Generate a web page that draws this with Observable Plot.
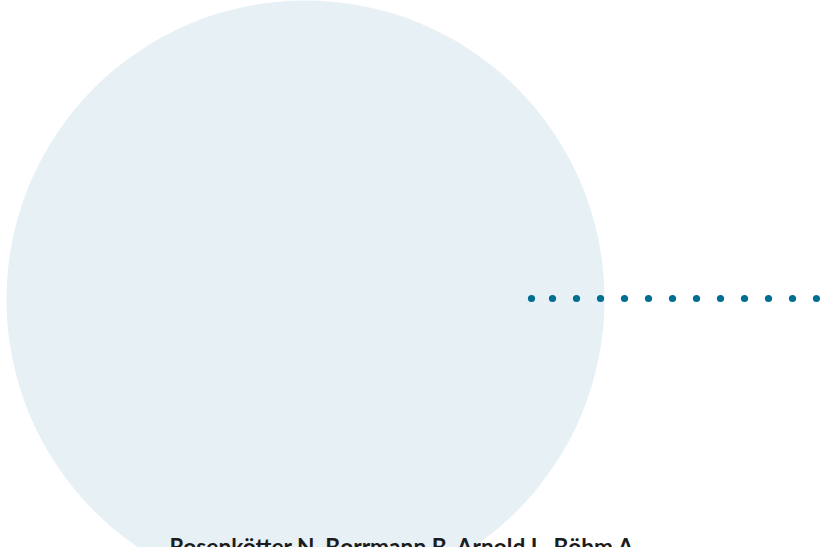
<!DOCTYPE html>
<html>
<head>
<meta charset="utf-8">
<script src="https://cdn.jsdelivr.net/npm/d3@7"></script>
<script src="https://cdn.jsdelivr.net/npm/@observablehq/plot@0.6"></script>
<style>
  html, body { margin: 0; padding: 0; background: #fff; overflow: hidden; }
  #chart { width: 820px; height: 547px; overflow: hidden; }
</style>
</head>
<body>
<div id="chart"></div>
<script>
// Bubble (large circle)
const bubbleX = [305];
const bubbleY = [299];
const bubbleValue = [299];

// Dotted leader line
const dotX = [531, 552, 576, 600, 624, 648, 672, 696, 720, 744, 768, 792, 816];
const dotY = 298;

// Caption (authors)
const labels = ["Rosenkötter N, Borrmann B, Arnold L, Böhm A"];
const labelX = [401];
const labelY = [538];

const bubbles = bubbleX.map((x, i) => ({x, y: bubbleY[i], r: bubbleValue[i]}));
const dots = dotX.map(x => ({x, y: dotY}));
const texts = labels.map((t, i) => ({t, x: labelX[i], y: labelY[i]}));

const plot = Plot.plot({
  width: 820,
  height: 547,
  margin: 0,
  x: {domain: [0, 820], axis: null},
  y: {domain: [0, 547], range: [0, 547], axis: null},
  r: {type: "identity"},
  style: {background: "#fff", overflow: "hidden"},
  marks: [
    Plot.dot(bubbles, {x: "x", y: "y", r: "r", fill: "#e6f0f5", stroke: null}),
    Plot.dot(dots, {x: "x", y: "y", r: 3.6, fill: "#006e90", stroke: null}),
    Plot.text(texts, {x: "x", y: "y", text: "t", fontSize: 22.7, fontWeight: "bold",
      fontFamily: "Lato, sans-serif", fill: "#1c1c1c", textAnchor: "middle", lineAnchor: "top"})
  ]
});
document.getElementById("chart").appendChild(plot);
</script>
</body>
</html>
